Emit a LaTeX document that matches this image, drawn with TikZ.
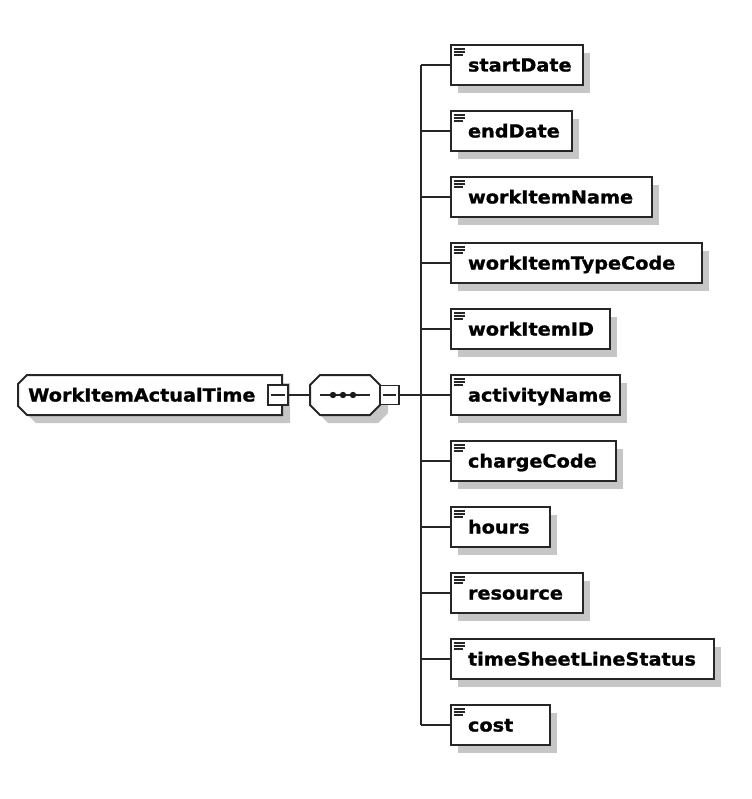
\documentclass[tikz,border=0pt]{standalone}
\usepackage{fontspec}
\newfontfamily\lblfont{DejaVu Sans}[FakeStretch=1.07, BoldFeatures={FakeBold=1.2}]
\begin{document}
\begin{tikzpicture}[x=1pt,y=-1pt,
  every node/.style={font=\lblfont\bfseries\fontsize{18}{20}\selectfont, text=black},
  elem/.style={draw=black!85, line width=2pt, fill=white, minimum height=40pt,
    anchor=west, inner xsep=17pt, inner ysep=0pt, text height=13pt, text depth=0pt},
  conn/.style={line width=2pt, draw=black!85},
  shade/.style={fill=gray!45, draw=none},
  outl/.style={draw=black!85, line width=2pt, fill=white},
  minusbox/.style={draw=black!85, line width=1.6pt, fill=white, minimum size=20pt, inner sep=0pt},
  icon/.style={draw=black!85, line width=1.3pt}]
\useasboundingbox (0,0) rectangle (751,799);

% ---------- root element ----------
\fill[shade] (36,383) -- (290,383) -- (290,423) -- (36,423) -- (26,413) -- (26,393) -- cycle;
\draw[outl] (27,375) -- (282,375) -- (282,415) -- (27,415) -- (18,406) -- (18,384) -- cycle;
\node[anchor=west, inner xsep=0pt, inner ysep=0pt, minimum width=264pt, minimum height=40pt,
      text height=13pt, text depth=0pt] (root) at (18,395)
      {\makebox[264pt][l]{\hspace{10pt}WorkItemActualTime}};
\node[minusbox] (rm) at (278,395) {};
\draw[icon, line width=1.6pt] ([xshift=4pt]rm.west) -- ([xshift=-4pt]rm.east);

% ---------- sequence compositor ----------
\fill[shade] (328,383) -- (378,383) -- (388,393) -- (388,413) -- (378,423) -- (328,423) -- (318,413) -- (318,393) -- cycle;
\draw[outl] (320,375) -- (370,375) -- (380,385) -- (380,405) -- (370,415) -- (320,415) -- (310,405) -- (310,385) -- cycle;
\node[minimum width=70pt, minimum height=40pt, inner sep=0pt] (seq) at (345,395) {};
\draw[conn] (320,395) -- (370,395);
\foreach \dx in {333,343,353} \fill[black!90] (\dx,395) circle (3.2);
\node[minusbox, minimum size=19pt] (sm) at (389.5,395) {};
\draw[icon, line width=1.6pt] ([xshift=3.5pt]sm.west) -- ([xshift=-3.5pt]sm.east);

\draw[conn] (rm.east) -- (seq.west);

% ---------- child elements ----------
\foreach \n/\y/\w/\t in {
  c1/65/132/startDate,
  c2/131/121/endDate,
  c3/197/201/workItemName,
  c4/263/251/workItemTypeCode,
  c5/329/159/workItemID,
  c6/395/169/activityName,
  c7/461/165/chargeCode,
  c8/527/99/hours,
  c9/593/132/resource,
  c10/659/263/timeSheetLineStatus,
  c11/725/99/cost}{
  \fill[shade] (458,\y-12) rectangle (450+\w+8,\y+28);
  \node[elem, minimum width=\w pt] (\n) at (450,\y)
     {\makebox[\dimexpr\w pt-34pt\relax][l]{\t}};
  \draw[icon] (454,\y-16) -- (465,\y-16);
  \draw[icon] (454,\y-13) -- (465,\y-13);
  \draw[icon] (454,\y-10) -- (463,\y-10);
}

% ---------- connectors ----------
\coordinate (bus) at (421,395);
\draw[conn] (c1.west -| bus) -- (c11.west -| bus);
\foreach \i in {1,...,11} \draw[conn] (c\i.west -| bus) -- (c\i.west);
\draw[conn] (sm.east) -- (c6.west);
\end{tikzpicture}
\end{document}
